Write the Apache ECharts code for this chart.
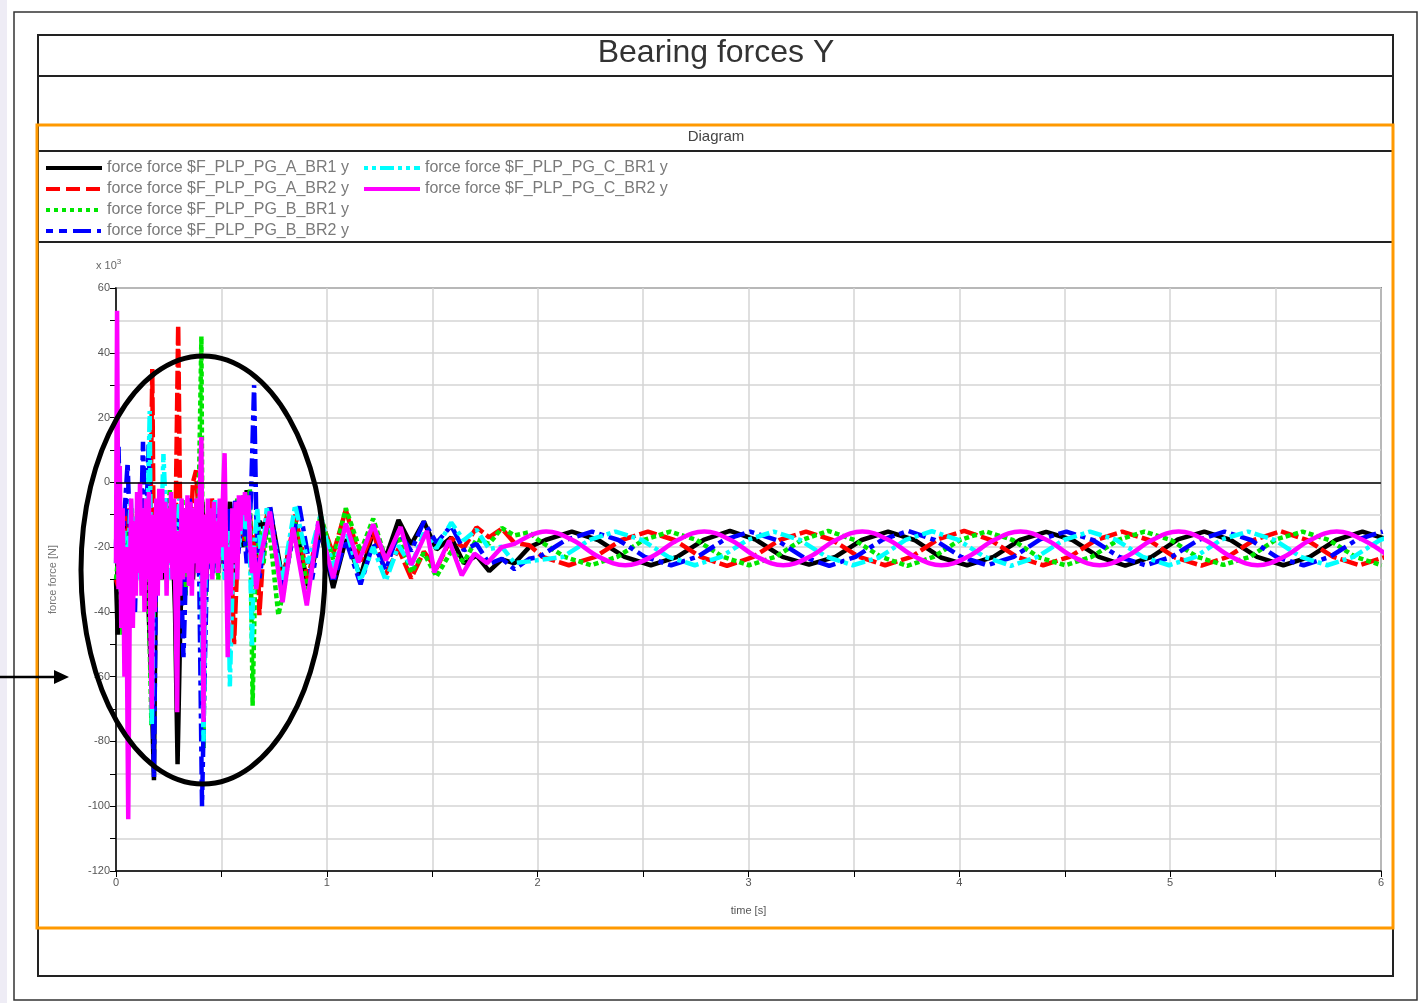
<!DOCTYPE html>
<html>
<head>
<meta charset="utf-8">
<script src="https://cdn.jsdelivr.net/npm/echarts@6/dist/echarts.min.js"></script>
<style>
html,body{margin:0;padding:0;background:#fff;}
#chart{width:1425px;height:1003px;}
</style>
</head>
<body>
<div id="chart"></div>
<script>
// ---------- names / labels ----------
const seriesNames = [
  'force force $F_PLP_PG_A_BR1 y',
  'force force $F_PLP_PG_A_BR2 y',
  'force force $F_PLP_PG_B_BR1 y',
  'force force $F_PLP_PG_B_BR2 y',
  'force force $F_PLP_PG_C_BR1 y',
  'force force $F_PLP_PG_C_BR2 y'
];
const titleText = 'Bearing forces Y';
const diagramText = 'Diagram';
const xAxisName = 'time [s]';
const yAxisName = 'force force [N]';

// ---------- data: [time s, force x10^3 N] ----------
const A_BR1 = [
  [0,-30],[0.008,-47],[0.02,-20],[0.035,-35],[0.05,-10],[0.065,-40],[0.08,-12],[0.095,-25],[0.11,-8],[0.125,-30],
  [0.14,-10],[0.155,-40],[0.17,-67],[0.18,-92],[0.19,-20],[0.205,-8],[0.22,-30],[0.235,-5],[0.25,-25],[0.265,-10],
  [0.28,-40],[0.292,-87],[0.305,-44],[0.32,-10],[0.335,-25],[0.35,-5],[0.365,-30],[0.38,-12],[0.395,-20],[0.41,-6],
  [0.425,-35],[0.44,-15],[0.455,-25],[0.47,-8],[0.485,-28],[0.5,-12],[0.52,-22],[0.54,-6],[0.56,-28],[0.58,-10],
  [0.6,-20],[0.62,-2.4],[0.64,-18],[0.66,-26],[0.68,-12],[0.7,-14],[0.73,-8],[0.79,-30],[0.85,-12],[0.91,-32],[0.97,-15],
  [1.03,-32.6],[1.09,-17.6],[1.16,-29.1],[1.22,-15.1],[1.28,-23.1],[1.34,-11.6],[1.40,-19.2],[1.46,-12.1],
  [1.52,-20.7],[1.59,-17.0],[1.65,-25.0],[1.71,-22.6],[1.77,-27.4],[1.83,-23.8],[1.89,-25.0],[1.96,-20.0],
  [2.037,-17.8],[2.162,-15.2],[2.287,-17.8],[2.412,-23.0],[2.537,-25.6],[2.662,-23.0],
  [2.787,-17.8],[2.912,-15.0],[3.037,-17.8],[3.162,-23.0],[3.287,-25.4],[3.412,-23.0],
  [3.537,-17.8],[3.662,-15.2],[3.787,-17.8],[3.912,-23.2],[4.037,-25.6],[4.162,-23.0],
  [4.287,-17.8],[4.412,-15.3],[4.537,-17.8],[4.662,-23.0],[4.787,-25.7],[4.912,-23.0],
  [5.037,-17.6],[5.162,-15.2],[5.287,-17.8],[5.412,-23.0],[5.537,-25.6],[5.662,-23.0],
  [5.787,-17.8],[5.912,-15.2],[6.037,-17.8]
];
const A_BR2 = [
  [0,-30],[0.01,-32],[0.025,-15],[0.04,-35],[0.055,-8],[0.07,-28],[0.085,-12],[0.1,-25],[0.115,-5],[0.13,-22],
  [0.145,-10],[0.16,-30],[0.172,35],[0.18,-29],[0.195,-10],[0.21,-25],[0.225,-5],[0.24,-20],[0.255,-8],[0.27,-30],
  [0.283,-10],[0.295,48.5],[0.305,-15],[0.32,-25],[0.335,-8],[0.35,-20],[0.365,0],[0.38,3.7],[0.395,-15],[0.41,-30],
  [0.425,-10],[0.44,-22],[0.455,-5],[0.47,-18],[0.485,-10],[0.5,-25],[0.515,-15],[0.53,-30],[0.545,-20],[0.56,-50],
  [0.575,-25],[0.59,-10],[0.61,-18],[0.63,-6],[0.65,-22],[0.67,-15],[0.68,-41],[0.7,-20],[0.72,-8],[0.79,-32],
  [0.85,-10],[0.91,-30],[0.97,-11],
  [1.03,-22.2],[1.09,-8.5],[1.16,-24.3],[1.22,-15.3],[1.28,-28.3],[1.34,-20.5],[1.40,-29.6],[1.46,-21.4],
  [1.52,-26.6],[1.59,-17.2],[1.65,-20.2],[1.71,-13.9],[1.77,-17.0],[1.83,-14.3],[1.89,-18.7],[1.96,-19.4],
  [2.023,-23.0],[2.148,-25.6],[2.273,-23.0],[2.398,-17.8],[2.523,-15.2],[2.648,-17.8],
  [2.773,-23.0],[2.898,-25.8],[3.023,-23.0],[3.148,-17.8],[3.273,-15.2],[3.398,-17.8],
  [3.523,-23.0],[3.648,-25.6],[3.773,-23.0],[3.898,-17.6],[4.023,-15.0],[4.148,-17.8],
  [4.273,-23.0],[4.398,-25.6],[4.523,-23.0],[4.648,-17.8],[4.773,-15.2],[4.898,-17.8],
  [5.023,-23.2],[5.148,-25.7],[5.273,-23.0],[5.398,-17.8],[5.523,-15.1],[5.648,-17.8],
  [5.773,-23.0],[5.898,-25.6],[6.023,-23.0]
];
const B_BR1 = [
  [0,-30],[0.015,-20],[0.03,-47],[0.045,-15],[0.06,-30],[0.075,-8],[0.09,-25],[0.105,-10],[0.12,-30],[0.135,-5],
  [0.15,-20],[0.168,-75],[0.18,-30],[0.195,-12],[0.21,-25],[0.225,-5],[0.24,-20],[0.255,-2],[0.27,-28],[0.285,-10],
  [0.3,-20],[0.315,-5],[0.33,-35],[0.345,-12],[0.36,-25],[0.375,-8],[0.39,-15],[0.405,45],[0.415,-82],[0.425,-20],
  [0.44,-8],[0.455,-25],[0.47,-10],[0.485,-30],[0.5,-15],[0.515,-5],[0.53,-25],[0.545,-10],[0.56,-20],[0.575,-5],
  [0.59,-15],[0.605,-4],[0.62,-20],[0.635,-2],[0.648,-69],[0.66,-30],[0.68,-15],[0.7,-25],[0.72,-10],[0.77,-41],
  [0.79,-35],[0.85,-12],[0.91,-33],[0.97,-10],
  [1.03,-23.9],[1.09,-8.0],[1.16,-21.4],[1.22,-11.2],[1.28,-23.9],[1.34,-17.0],[1.40,-27.8],[1.46,-21.8],
  [1.52,-29.1],[1.59,-21.3],[1.65,-24.6],[1.71,-17.6],[1.77,-19.0],[1.83,-14.1],[1.89,-16.4],[1.96,-15.4],
  [2.003,-17.8],[2.128,-23.0],[2.253,-25.6],[2.378,-23.0],[2.503,-17.8],[2.628,-15.2],
  [2.753,-17.8],[2.878,-23.0],[3.003,-25.6],[3.128,-23.0],[3.253,-17.8],[3.378,-15.0],
  [3.503,-17.8],[3.628,-23.0],[3.753,-25.8],[3.878,-23.0],[4.003,-17.8],[4.128,-15.2],
  [4.253,-17.8],[4.378,-23.2],[4.503,-25.6],[4.628,-23.0],[4.753,-17.8],[4.878,-15.2],
  [5.003,-17.8],[5.128,-23.0],[5.253,-25.5],[5.378,-23.0],[5.503,-17.6],[5.628,-15.2],
  [5.753,-17.8],[5.878,-23.0],[6.003,-25.6]
];
const B_BR2 = [
  [0,-20],[0.012,11],[0.025,-30],[0.04,-10],[0.055,6],[0.065,-13.5],[0.075,-35],[0.09,-40],[0.1,-15],[0.115,-25],
  [0.128,12.5],[0.14,-20],[0.155,12],[0.17,-40],[0.18,-91],[0.19,-25],[0.205,-10],[0.22,-26],[0.235,-5],[0.25,-20],
  [0.265,-8],[0.28,-25],[0.3,-10],[0.32,-54],[0.335,-20],[0.35,-5],[0.365,-25],[0.38,-10],[0.395,-30],[0.408,-100],
  [0.42,-60],[0.43,-31],[0.445,-15],[0.46,-28],[0.475,-8],[0.49,-25],[0.505,-12],[0.52,-30],[0.535,-8],[0.55,-20],
  [0.565,-5],[0.58,-22],[0.6,-8],[0.62,-25],[0.64,-5],[0.655,30],[0.665,-10],[0.68,-30],[0.7,-20],[0.73,-7],
  [0.79,-33],[0.87,-7.4],[0.93,-30],[0.97,-14],
  [1.03,-30.8],[1.09,-17.8],[1.16,-31.5],[1.22,-18.8],[1.28,-27.1],[1.34,-15.1],[1.40,-21.2],[1.46,-12.1],
  [1.52,-18.7],[1.59,-13.4],[1.65,-21.0],[1.71,-19.0],[1.77,-25.2],[1.83,-23.6],[1.89,-26.8],[1.96,-23.6],
  [2.008,-23.0],[2.133,-17.8],[2.258,-15.2],[2.383,-17.8],[2.508,-23.0],[2.633,-25.6],
  [2.758,-23.0],[2.883,-17.8],[3.008,-15.2],[3.133,-17.8],[3.258,-23.0],[3.383,-25.8],
  [3.508,-23.0],[3.633,-17.8],[3.758,-15.0],[3.883,-17.8],[4.008,-23.0],[4.133,-25.6],
  [4.258,-23.0],[4.383,-17.6],[4.508,-15.2],[4.633,-17.8],[4.758,-23.0],[4.883,-25.6],
  [5.008,-23.0],[5.133,-17.8],[5.258,-15.2],[5.383,-17.8],[5.508,-23.2],[5.633,-25.6],
  [5.758,-23.0],[5.883,-17.8],[6.008,-15.2]
];
const C_BR1 = [
  [0,-25],[0.01,-10],[0.025,-35],[0.04,-15],[0.055,-28],[0.07,-5],[0.085,-22],[0.1,-10],[0.115,-30],[0.13,-8],
  [0.145,-25],[0.16,22],[0.17,-75],[0.18,-20],[0.195,-5],[0.21,-25],[0.225,8.7],[0.24,-15],[0.255,-30],[0.27,-10],
  [0.285,-20],[0.3,-5],[0.315,-28],[0.33,-12],[0.345,-25],[0.36,-8],[0.375,-20],[0.39,-5],[0.405,-30],[0.415,-80],
  [0.425,-25],[0.44,-10],[0.455,-20],[0.47,-5],[0.485,-25],[0.5,-12],[0.515,-30],[0.53,-15],[0.54,-63],[0.555,-25],
  [0.57,-8],[0.585,-20],[0.6,-5],[0.615,-15],[0.63,-5],[0.645,-51],[0.655,-20],[0.67,-8],[0.69,-25],[0.715,-8],
  [0.79,-30],[0.85,-7],[0.91,-25],[0.97,-10],
  [1.03,-26.2],[1.09,-14.3],[1.16,-30.3],[1.22,-20.0],[1.28,-30.4],[1.34,-19.5],[1.40,-25.8],[1.46,-15.7],
  [1.52,-20.4],[1.59,-12.4],[1.65,-17.9],[1.71,-14.6],[1.77,-20.6],[1.83,-19.9],[1.89,-24.9],[1.96,-24.4],
  [2.12,-23.0],[2.245,-17.8],[2.37,-15.2],[2.495,-17.8],[2.62,-23.0],[2.745,-25.6],
  [2.87,-23.0],[2.995,-17.8],[3.12,-15.2],[3.245,-17.8],[3.37,-23.0],[3.495,-25.6],
  [3.62,-23.2],[3.745,-17.8],[3.87,-15.1],[3.995,-17.8],[4.12,-23.0],[4.245,-25.8],
  [4.37,-23.0],[4.495,-17.8],[4.62,-15.2],[4.745,-17.8],[4.87,-23.0],[4.995,-25.6],
  [5.12,-23.0],[5.245,-17.6],[5.37,-15.2],[5.495,-17.8],[5.62,-23.0],[5.745,-25.6],
  [5.87,-23.0],[5.995,-17.8],[6.12,-15.2]
];
const C_BR2 = [
  [0,-25],[0.005,53],[0.012,-33],[0.018,5],[0.025,-45],[0.032,-8],[0.04,-60],[0.048,-20],[0.058,-104],[0.066,-30],
  [0.072,-5],[0.08,-45],[0.087,-12],[0.094,-35],[0.1,-3],[0.107,-28],[0.114,0],[0.121,-35],[0.128,-8],[0.135,-40],
  [0.142,-5],[0.149,-30],[0.156,-3],[0.163,-45],[0.17,-70],[0.177,-10],[0.184,-40],[0.191,-5],[0.198,-35],[0.205,-2],
  [0.212,-30],[0.219,-2],[0.226,-28],[0.233,-6],[0.24,-35],[0.247,-8],[0.254,-25],[0.261,-3],[0.268,-30],[0.275,-5],
  [0.283,-40],[0.29,-71],[0.297,-15],[0.304,-35],[0.311,-5],[0.318,-30],[0.325,-8],[0.332,-28],[0.339,-4],[0.346,-32],
  [0.353,-6],[0.36,-35],[0.367,-8],[0.374,-25],[0.381,-5],[0.388,-28],[0.397,-5],[0.405,14],[0.415,-74],[0.422,-10],
  [0.429,-30],[0.436,-5],[0.443,-25],[0.45,-8],[0.457,-30],[0.464,-6],[0.471,-25],[0.478,-12],[0.485,-28],[0.492,-5],
  [0.5,-20],[0.508,-3],[0.515,9],[0.53,-54],[0.537,-20],[0.545,-35],[0.552,-8],[0.56,-25],[0.568,-6],[0.575,-30],
  [0.583,-4],[0.59,-15],[0.598,-4],[0.605,-10],[0.612,-3],[0.62,-12],[0.628,-4],[0.635,-18],[0.645,-28],[0.655,-20],
  [0.665,-33],[0.68,-25],[0.695,-20],[0.73,-9],[0.79,-37],[0.84,-14],[0.905,-38],[0.96,-12],
  [1.03,-29.6],[1.09,-12.7],[1.15,-24.7],[1.22,-13.0],[1.28,-24.1],[1.35,-13.8],[1.40,-25.5],[1.475,-15.0],
  [1.51,-27.8],[1.58,-18.0],[1.64,-28.7],[1.70,-22.0],[1.76,-25.0],[1.83,-20.0],[1.89,-19.0],[1.96,-16.5],
  [2.04,-15.2],[2.165,-17.8],[2.29,-23.0],[2.415,-25.6],[2.54,-23.0],[2.665,-17.8],
  [2.79,-15.2],[2.915,-17.8],[3.04,-23.0],[3.165,-25.6],[3.29,-23.0],[3.415,-17.8],
  [3.54,-15.2],[3.665,-17.8],[3.79,-23.0],[3.915,-25.6],[4.04,-23.0],[4.165,-17.8],
  [4.29,-15.2],[4.415,-17.8],[4.54,-23.0],[4.665,-25.6],[4.79,-23.0],[4.915,-17.8],
  [5.04,-15.2],[5.165,-17.8],[5.29,-23.0],[5.415,-25.6],[5.54,-23.0],[5.665,-17.8],
  [5.79,-15.2],[5.915,-17.8],[6.04,-23.0]
];
const seriesData = [A_BR1, A_BR2, B_BR1, B_BR2, C_BR1, C_BR2];

// ---------- styles ----------
const colors = ['#000000', '#ff0000', '#00e600', '#0000ff', '#00ffff', '#ff00ff'];
const plotDashes = ['solid', [18, 4], [5, 3], [18, 5, 5, 5], [14, 4, 4, 4], 'solid'];
const legendDashes = ['solid', [14, 6], [4, 4], [7, 6, 8, 6, 18, 6, 4, 6], [4, 4, 4, 4, 14, 4], 'solid'];

const chart = echarts.init(document.getElementById('chart'), null, { renderer: 'canvas' });

const series = [];
seriesData.forEach((d, i) => {
  const base = {
    name: seriesNames[i], type: 'line', symbol: 'none', animation: false,
    lineStyle: { color: colors[i], width: 4.5, type: plotDashes[i] },
    itemStyle: { color: colors[i] }
  };
  if (i === 5) {
    // C_BR2: raw transient part, then the smooth periodic part (same series name)
    series.push(Object.assign({}, base, { data: d.filter(p => p[0] <= 1.961) }));
    series.push(Object.assign({}, base, { data: d.filter(p => p[0] >= 1.959), smooth: 0.4 }));
  } else {
    const s = Object.assign({}, base, { data: d });
    if (i === 0) {
      s.markLine = {
        silent: true, symbol: ['none', 'none'], label: { show: false },
        lineStyle: { color: '#000', width: 1.5, type: 'solid' },
        data: [{ yAxis: 0 }], animation: false
      };
    }
    series.push(s);
  }
});

const legendText = { fontSize: 16, color: '#7a7a7a', fontFamily: 'Liberation Sans', lineHeight: 16 };
const legendItems = seriesNames.map((n, i) => ({ name: n, lineStyle: { width: 4, type: legendDashes[i], color: colors[i] } }));
const legendCommon = {
  orient: 'vertical', top: 160, itemWidth: 56, itemHeight: 14, itemGap: 5, selectedMode: false,
  textStyle: legendText, itemStyle: { opacity: 0 }, padding: 0
};

const option = {
  backgroundColor: '#ffffff',
  animation: false,
  textStyle: { fontFamily: 'Liberation Sans' },
  grid: { left: 116, top: 288, width: 1265, height: 583, show: true, borderColor: '#333', borderWidth: 1.5 },
  legend: [
    Object.assign({}, legendCommon, { left: 44, data: legendItems.slice(0, 4) }),
    Object.assign({}, legendCommon, { left: 362, data: legendItems.slice(4) })
  ],
  xAxis: {
    type: 'value', min: 0, max: 6, interval: 0.5,
    name: xAxisName, nameLocation: 'middle', nameGap: 34,
    nameTextStyle: { fontSize: 11, color: '#555' },
    axisLine: { onZero: false, lineStyle: { color: '#000', width: 1.5 } },
    axisTick: { show: true, length: 6, lineStyle: { color: '#000' } },
    axisLabel: { fontSize: 11, color: '#555', margin: 6,
      formatter: v => (Math.abs(v - Math.round(v)) < 1e-9 ? String(Math.round(v)) : '') },
    splitLine: { show: true, lineStyle: { color: '#d4d4d4', width: 1.5 } }
  },
  yAxis: {
    type: 'value', min: -120, max: 60, interval: 10,
    name: yAxisName, nameLocation: 'middle', nameGap: 58, nameRotate: 90,
    nameTextStyle: { fontSize: 11, color: '#777' },
    axisLine: { onZero: false, lineStyle: { color: '#000', width: 1.5 } },
    axisTick: { show: true, length: 6, lineStyle: { color: '#000' } },
    axisLabel: { fontSize: 11, color: '#555', margin: 6,
      formatter: v => (v % 20 === 0 ? String(v) : '') },
    splitLine: { show: true, lineStyle: { color: '#d4d4d4', width: 1.5 } }
  },
  series: series,
  graphic: [
    { type: 'rect', silent: true, z: -10, shape: { x: 0, y: 0, width: 7, height: 1003 }, style: { fill: '#eeecf5' } },
    { type: 'rect', silent: true, z: -5, shape: { x: 14, y: 12, width: 1403, height: 988 }, style: { fill: 'none', stroke: '#333', lineWidth: 1.5 } },
    { type: 'rect', silent: true, z: -5, shape: { x: 38, y: 35, width: 1355, height: 941 }, style: { fill: 'none', stroke: '#222', lineWidth: 2 } },
    { type: 'line', silent: true, z: -5, shape: { x1: 38, y1: 76, x2: 1393, y2: 76 }, style: { stroke: '#222', lineWidth: 2 } },
    { type: 'line', silent: true, z: -5, shape: { x1: 38, y1: 151, x2: 1392, y2: 151 }, style: { stroke: '#222', lineWidth: 2 } },
    { type: 'line', silent: true, z: -5, shape: { x1: 38, y1: 242, x2: 1392, y2: 242 }, style: { stroke: '#222', lineWidth: 2 } },
    { type: 'rect', silent: true, z: -4, shape: { x: 37, y: 125, width: 1356, height: 803 }, style: { fill: 'none', stroke: '#ff9900', lineWidth: 3 } },
    { type: 'text', silent: true, x: 716, y: 53, style: { text: titleText, font: '32px "Liberation Sans"', fill: '#333', align: 'center', verticalAlign: 'middle' } },
    { type: 'text', silent: true, x: 716, y: 137, style: { text: diagramText, font: '15px "Liberation Sans"', fill: '#444', align: 'center', verticalAlign: 'middle' } },
    { type: 'text', silent: true, x: 96, y: 266, style: { text: 'x 10{s|3}', font: '11px "Liberation Sans"', fill: '#666', verticalAlign: 'middle',
        rich: { s: { fontSize: 8, fill: '#666', padding: [0, 0, 9, 0] } } } },
    { type: 'ellipse', silent: true, z: 100, shape: { cx: 203, cy: 570, rx: 122, ry: 214 }, style: { fill: 'none', stroke: '#000', lineWidth: 5 } },
    { type: 'line', silent: true, z: 100, shape: { x1: 0, y1: 677, x2: 58, y2: 677 }, style: { stroke: '#000', lineWidth: 2.5 } },
    { type: 'polygon', silent: true, z: 100, shape: { points: [[54, 670], [69, 677], [54, 684]] }, style: { fill: '#000' } }
  ]
};
chart.setOption(option);
</script>
</body>
</html>
